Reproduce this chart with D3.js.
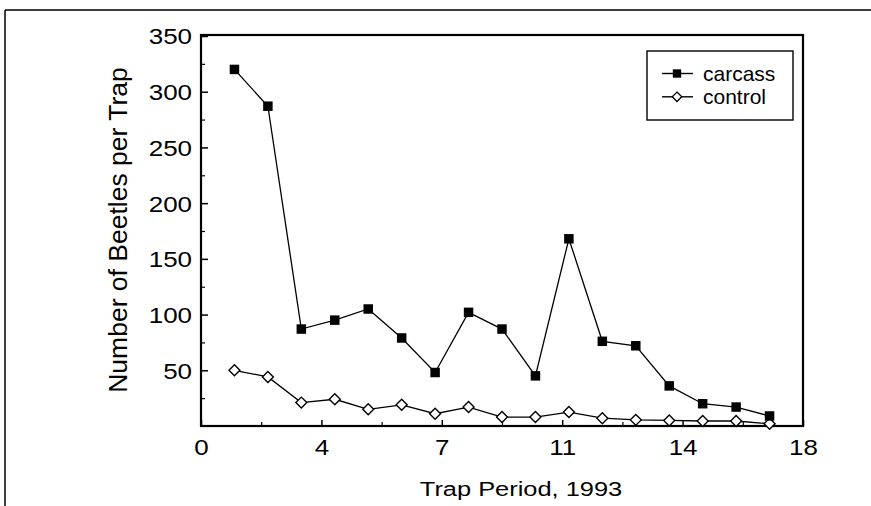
<!DOCTYPE html>
<html><head><meta charset="utf-8">
<script src="https://cdn.jsdelivr.net/npm/d3@7"></script>
<style>body{margin:0;background:#fff}svg{display:block;font-family:"Liberation Sans",Arial,sans-serif}</style>
</head><body><svg id="c" width="871" height="506"></svg>
<script>
const periods = [1,2,3,4,5,6,7,8,9,10,11,12,13,14,15,16,17];
const carcass = [320,287,87,95,105,79,48,102,87,45,168,76,72,36,20,17,9];
const control = [50,44,21,24,15,19,11,17,8,8,12.5,7,5.5,5,4.5,4.5,2];
const yTicks = [50,100,150,200,250,300,350];
const xTickValues = [0,3.6,7.2,10.8,14.4,18];
const xTickLabels = ["0","4","7","11","14","18"];
const seriesNames = ["carcass","control"];

const svg = d3.select("#c");
const L=201, R=803, T=35, B=426;
const x = d3.scaleLinear().domain([0,18]).range([L,R]);
const y = d3.scaleLinear().domain([0,350]).range([B,36]);
const SX = 1.18;

// outer frame lines
svg.append("line").attr("x1",5).attr("x2",871).attr("y1",10).attr("y2",10).attr("stroke","#000").attr("stroke-width",1.5);
svg.append("line").attr("x1",5).attr("x2",5).attr("y1",10).attr("y2",506).attr("stroke","#000").attr("stroke-width",1.5);

// plot box
svg.append("rect").attr("x",L).attr("y",T).attr("width",R-L).attr("height",B-T).attr("fill","none").attr("stroke","#000").attr("stroke-width",2.2);

// y axis ticks inward
const yAxis = d3.axisLeft(y).tickValues(yTicks).tickSize(-7).tickPadding(7.6).tickFormat(d3.format("d"));
const gy = svg.append("g").attr("transform",`translate(${L},0)`).call(yAxis);
gy.select(".domain").remove();
gy.selectAll("line").attr("stroke-width",1.5);
gy.selectAll("text").attr("font-size",22).attr("fill","#000").attr("transform",`scale(${SX},1)`).attr("dy","0.36em");
const yMinor = d3.axisLeft(y).tickValues(d3.range(25,350,50)).tickSize(-4).tickFormat("");
const gym = svg.append("g").attr("transform",`translate(${L},0)`).call(yMinor);
gym.select(".domain").remove();
gym.selectAll("line").attr("stroke-width",1.2);

// x axis
const xAxis = d3.axisBottom(x).tickValues(xTickValues).tickSize(-6).tickPadding(13.4).tickFormat((d,i)=>xTickLabels[i]);
const gx = svg.append("g").attr("transform",`translate(0,${B})`).call(xAxis);
gx.select(".domain").remove();
gx.selectAll("line").attr("stroke-width",1.5);
gx.selectAll("text").attr("font-size",22).attr("fill","#000").attr("transform",`scale(${SX},1)`);
const xMinor = d3.axisBottom(x).tickValues(d3.range(1.8,18,3.6)).tickSize(-4).tickFormat("");
const gxm = svg.append("g").attr("transform",`translate(0,${B})`).call(xMinor);
gxm.select(".domain").remove();
gxm.selectAll("line").attr("stroke-width",1.2);

// axis titles
svg.append("text").attr("transform","translate(521,496) scale(1.27,1)").attr("text-anchor","middle").attr("font-size",20).text("Trap Period, 1993");
svg.append("text").attr("transform","translate(127,230) rotate(-90)").attr("text-anchor","middle").attr("font-size",26.5).text("Number of Beetles per Trap");

const line = d3.line().x((d,i)=>x(periods[i])).y(d=>y(d));
svg.append("path").datum(control).attr("d",line).attr("fill","none").attr("stroke","#000").attr("stroke-width",1.3);
svg.append("path").datum(carcass).attr("d",line).attr("fill","none").attr("stroke","#000").attr("stroke-width",1.3);

const diamond = {draw(ctx, size){ const r=Math.sqrt(size/2); ctx.moveTo(0,-r); ctx.lineTo(r,0); ctx.lineTo(0,r); ctx.lineTo(-r,0); ctx.closePath(); }};
const sq = d3.symbol().type(d3.symbolSquare).size(90);
const dm = d3.symbol().type(diamond).size(60);
svg.append("g").selectAll("path").data(control).join("path")
  .attr("d",dm).attr("transform",(d,i)=>`translate(${x(periods[i])},${y(d)})`)
  .attr("fill","#fff").attr("stroke","#000").attr("stroke-width",1.4);
svg.append("g").selectAll("path").data(carcass).join("path")
  .attr("d",sq).attr("transform",(d,i)=>`translate(${x(periods[i])},${y(d)})`)
  .attr("fill","#000");

// legend
const lg = svg.append("g");
lg.append("rect").attr("x",647).attr("y",51).attr("width",146).attr("height",69).attr("fill","#fff").attr("stroke","#000").attr("stroke-width",1.4);
seriesNames.forEach((n,i)=>{
  const yy = 73.5+i*23.3;
  lg.append("line").attr("x1",662).attr("x2",693).attr("y1",yy).attr("y2",yy).attr("stroke","#000").attr("stroke-width",1.4);
  lg.append("path").attr("d", i===0 ? d3.symbol().type(d3.symbolSquare).size(70)() : d3.symbol().type(diamond).size(45)())
    .attr("transform",`translate(677,${yy})`).attr("fill", i===0?"#000":"#fff").attr("stroke","#000").attr("stroke-width", i===0?0:1.3);
  lg.append("text").attr("x",703).attr("y",yy+7).attr("font-size",21).text(n);
});
</script></body></html>
